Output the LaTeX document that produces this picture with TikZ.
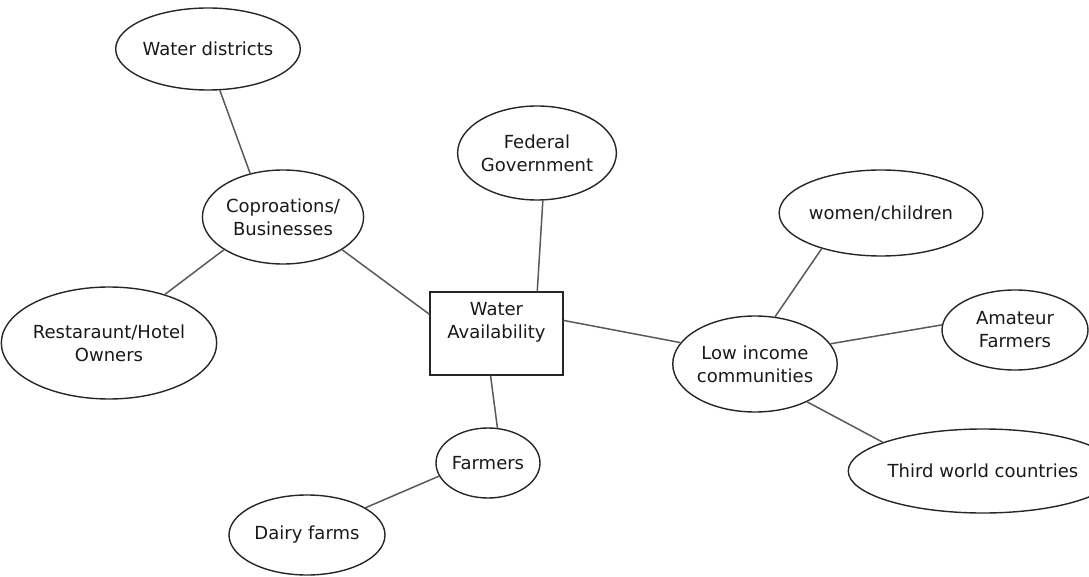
\documentclass[tikz,border=0pt]{standalone}
\usepackage{fontspec}
\setmainfont{DejaVu Sans}
\usetikzlibrary{shapes.geometric}
\begin{document}
\begin{tikzpicture}[x=1pt,y=-1pt,
  every node/.style={font=\fontsize{18}{23}\selectfont, text=black!90},
  bubble/.style={draw=black!85, line width=1.4pt, ellipse, inner sep=0pt, align=center},
  topic/.style={draw=black!85, line width=1.4pt, rectangle, inner sep=0pt},
  link/.style={draw=black!65, line width=1.5pt}]
\useasboundingbox (0,0) rectangle (1089,577);
% nodes
\node[bubble, minimum width=180pt, minimum height=82pt] (wd) at (208,49) {Water districts};
\node[bubble, minimum width=138pt, minimum height=94pt] (cb) at (283,217) {Coproations/\\Businesses};
\node[bubble, minimum width=157pt, minimum height=94pt] (fg) at (537,153) {Federal\\Government};
\node[bubble, minimum width=200pt, minimum height=112pt] (rh) at (109,343) {Restaraunt/Hotel\\Owners};
\node[topic, minimum width=133pt, minimum height=83pt] (wa) at (496.5,333.5)
  {\parbox[c][83pt][t]{133pt}{\centering\rule{0pt}{23pt}Water\\Availability}};
\node[bubble, minimum width=104pt, minimum height=70pt] (fa) at (488,463) {Farmers};
\node[bubble, minimum width=156pt, minimum height=80pt] (df) at (307,535) {Dairy farms};
\node[bubble, minimum width=146pt, minimum height=96pt] (li) at (755,364) {Low income\\communities};
\node[bubble, minimum width=150pt, minimum height=86pt] (wc) at (881,213) {women/children};
\node[bubble, minimum width=146pt, minimum height=80pt] (af) at (1015,330) {Amateur\\Farmers};
\node[bubble, minimum width=210pt, minimum height=84pt] (tw) at (983,471) {Third world countries};
% connectors
\draw[link] (wd.-74) -- (cb.127);
\draw[link] (cb.209) -- (rh.41);
\draw[link] (cb.-29) -- (wa.164);
\draw[link] (fg.-83) -- (wa.46);
\draw[link] (wa.11) -- (li.164);
\draw[link] (li.67) -- (wc.211);
\draw[link] (li.15) -- (af.176);
\draw[link] (li.-36) -- (tw.164);
\draw[link] (wa.262) -- (fa.75);
\draw[link] (fa.195) -- (df.25);
\end{tikzpicture}
\end{document}
